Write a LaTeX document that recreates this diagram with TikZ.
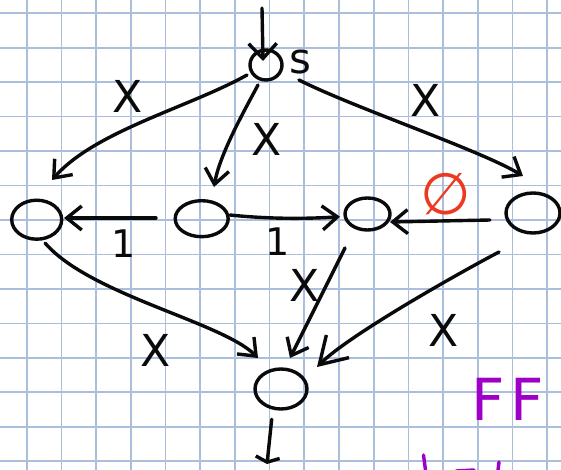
\documentclass[tikz,border=0pt]{standalone}
\usepackage{fontspec}
\newfontfamily\djv{DejaVu Sans}
\usetikzlibrary{arrows.meta,shapes.geometric}
\definecolor{gridc}{RGB}{172,190,222}
\definecolor{ink}{RGB}{10,10,10}
\definecolor{redink}{RGB}{236,58,32}
\definecolor{purp}{RGB}{158,0,200}
\begin{document}
\begin{tikzpicture}[x=1pt,y=-1pt,
  gridl/.style={draw=gridc, line width=1.7pt},
  vtx/.style={draw=ink, line width=3.4pt, ellipse, inner sep=0pt},
  edge/.style={draw=ink, line width=3.4pt, line cap=round,
    -{Straight Barb[length=15pt,width=24pt]}},
  lbl/.style={text=ink, inner sep=0pt, font=\djv\fontsize{44}{44}\selectfont},
  onelbl/.style={text=ink, inner sep=0pt, font=\djv\fontsize{38}{38}\selectfont}]
\fill[white] (0,0) rectangle (561,470);
\useasboundingbox (0,0) rectangle (561,470);
% graph paper
\foreach \i in {0,...,15}{\draw[gridl] ({26.7+34.7*\i},0) -- ({26.7+34.7*\i},470);}
\foreach \j in {0,...,13}{\draw[gridl] (0,{13.3+34.45*\j}) -- (561,{13.3+34.45*\j});}
% vertices
\node[vtx, minimum width=32pt, minimum height=30pt] (s)  at (266,65) {};
\node[vtx, minimum width=50pt, minimum height=39pt] (L)  at (36.7,219.7) {};
\node[vtx, minimum width=53pt, minimum height=36pt] (M1) at (201.7,218.7) {};
\node[vtx, minimum width=45pt, minimum height=32pt] (M2) at (367.5,214) {};
\node[vtx, minimum width=54pt, minimum height=40pt] (R)  at (533,213) {};
\node[vtx, minimum width=52pt, minimum height=40pt] (t)  at (281,389) {};
\coordinate (sin) at (262,8);
\coordinate (tout) at (267,464);
% source / sink arrows
\draw[draw=ink, line width=3.4pt, line cap=round, -{Straight Barb[length=15pt,width=28pt]}]
  (sin) -- ([shift={(-3,-4)}]s.center);
\draw[draw=ink, line width=3.4pt, line cap=round, -{Straight Barb[length=5pt,width=24pt]}]
  ([shift={(-9.3,30.3)}]t.center) -- (tout);
% edges from s
\draw[edge] ([shift={(-19,10)}]s.center) .. controls (190,107) and (95,131) .. ([shift={(15.3,-39.7)}]L.center);
\draw[edge] ([shift={(-8,20)}]s.center) .. controls (242.5,114) and (219.6,155) .. ([shift={(12.3,-31.7)}]M1.center);
\draw[edge] ([shift={(33,15)}]s.center) .. controls (352,107) and (480,150) .. ([shift={(-10,-37)}]R.center);
% middle row
\draw[edge] ([shift={(-45.7,-0.7)}]M1.center) -- ([shift={(27.3,-1.7)}]L.center);
\draw[edge] ([shift={(28.3,-3.7)}]M1.center) .. controls (268,219) and (305,219) .. ([shift={(-27.5,2.7)}]M2.center);
\draw[edge] ([shift={(-43,7)}]R.center) -- ([shift={(22.5,8)}]M2.center);
% edges into t
\draw[edge] ([shift={(8.3,23.3)}]L.center) .. controls (90,295) and (222,322) .. ([shift={(-23,-31)}]t.center);
\draw[edge] ([shift={(-22.5,34)}]M2.center) -- ([shift={(9,-31)}]t.center);
\draw[draw=ink, line width=3.4pt, line cap=round, -{Straight Barb[length=26pt,width=32pt]}]
  ([shift={(-34,39)}]R.center) .. controls (459,273) and (349,335) .. ([shift={(36,-22)}]t.center);
% labels
\node[lbl] (x1) at (128,96) {X};
\node[lbl] (x2) at (267,139) {X};
\node[lbl] (x3) at (426,100) {X};
\node[lbl] (x4) at (156,350) {X};
\node[lbl] (x5) at (305,285) {X};
\node[lbl] (x6) at (444,330) {X};
\node[onelbl] (o1) at (124,244) {1};
\node[onelbl] (o2) at (278,242) {1};
\node[text=ink, inner sep=0pt, font=\djv\fontsize{42}{42}\selectfont] (slbl) at (300,62) {s};
\node[text=redink, inner sep=0pt, font=\djv\fontsize{58}{58}\selectfont] (empty) at (446,194) {∅};
\node[text=purp, inner sep=0pt, font=\djv\fontsize{58}{58}\selectfont] (ff) at (508,399) {F\kern6pt F};
% cut-off purple strokes at the bottom edge
\draw[purp, line width=3.4pt, line cap=round] (423.5,455) -- (426,474);
\draw[purp, line width=3.4pt, line cap=round] (456,471) -- (474,470);
\draw[purp, line width=3.4pt, line cap=round] (499,462) -- (497.5,474);
\end{tikzpicture}
\end{document}
